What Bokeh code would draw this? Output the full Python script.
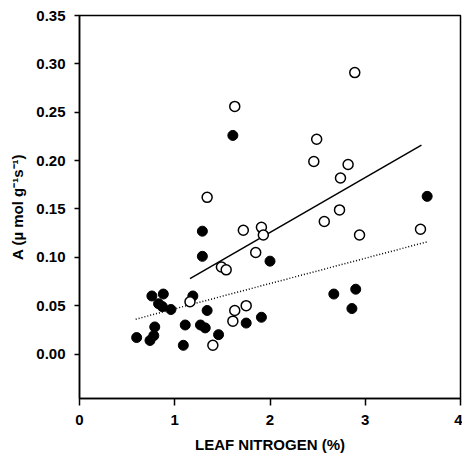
from bokeh.plotting import figure
from bokeh.models import FixedTicker, NumeralTickFormatter, Range1d
from bokeh.embed import file_html
from bokeh.resources import INLINE

# Filled circles
filled_x = [0.60, 0.74, 0.76, 0.78, 0.79, 0.83, 0.87, 0.88, 0.96, 1.09, 1.11, 1.19, 1.27,
            1.29, 1.29, 1.32, 1.34, 1.46, 1.61, 1.75, 1.91, 2.00, 2.67, 2.86, 2.90, 3.65]
filled_y = [0.017, 0.014, 0.060, 0.019, 0.028, 0.052, 0.049, 0.062, 0.046, 0.009, 0.030, 0.060, 0.030,
            0.127, 0.101, 0.027, 0.045, 0.020, 0.226, 0.032, 0.038, 0.096, 0.062, 0.047, 0.067, 0.163]

# Open circles
open_x = [1.16, 1.34, 1.40, 1.49, 1.54, 1.61, 1.63, 1.63, 1.72, 1.75, 1.85, 1.91, 1.93,
          2.46, 2.49, 2.57, 2.73, 2.74, 2.82, 2.89, 2.94, 3.58]
open_y = [0.054, 0.162, 0.009, 0.090, 0.087, 0.034, 0.045, 0.256, 0.128, 0.050, 0.105, 0.131, 0.123,
          0.199, 0.222, 0.137, 0.149, 0.182, 0.196, 0.291, 0.123, 0.129]

# Regression lines (endpoints)
solid_x = [1.16, 3.59]
solid_y = [0.078, 0.216]
dotted_x = [0.59, 3.65]
dotted_y = [0.036, 0.116]

x_ticks = [0, 1, 2, 3, 4]
y_ticks = [0.00, 0.05, 0.10, 0.15, 0.20, 0.25, 0.30, 0.35]

FONT = "Liberation Sans"

p = figure(frame_width=381, frame_height=383, output_backend="svg", toolbar_location=None,
           x_range=Range1d(0, 4), y_range=Range1d(-0.046, 0.35),
           min_border_left=79, min_border_right=2, min_border_top=15, min_border_bottom=56)
p.background_fill_color = "white"
p.border_fill_color = "white"
p.outline_line_color = "black"
p.outline_line_width = 1.5
p.outline_line_alpha = 1.0
p.xgrid.visible = False
p.ygrid.visible = False

p.line(solid_x, solid_y, line_color="black", line_width=1.5)
p.line(dotted_x, dotted_y, line_color="black", line_width=1.5, line_dash="1 2")

p.scatter(filled_x, filled_y, marker="circle", size=10, fill_color="black", line_color="black", line_width=1)
p.scatter(open_x, open_y, marker="circle", size=10, fill_color="white", line_color="black", line_width=1.5)

xa = p.xaxis[0]
xa.ticker = FixedTicker(ticks=x_ticks)
xa.formatter = NumeralTickFormatter(format="0")
xa.axis_label = "LEAF NITROGEN (%)"
xa.major_tick_out = 7
xa.major_tick_in = 0
xa.minor_tick_out = 0
xa.minor_tick_in = 0
xa.major_label_standoff = 9
xa.axis_label_standoff = 8

ya = p.yaxis[0]
ya.ticker = FixedTicker(ticks=y_ticks)
ya.formatter = NumeralTickFormatter(format="0.00")
ya.axis_label = "A (\u00b5 mol g\u207b\u00b9s\u207b\u00b9)"
ya.major_tick_out = 5
ya.major_tick_in = 0
ya.minor_tick_out = 0
ya.minor_tick_in = 0
ya.major_label_standoff = 9
ya.axis_label_standoff = 7

for ax in (xa, ya):
    ax.axis_line_color = "black"
    ax.axis_line_width = 1.5
    ax.major_tick_line_color = "black"
    ax.major_tick_line_width = 1.5
    ax.major_label_text_font = FONT
    ax.major_label_text_font_style = "bold"
    ax.major_label_text_font_size = "15px"
    ax.major_label_text_color = "black"
    ax.axis_label_text_font = FONT
    ax.axis_label_text_font_style = "bold"
    ax.axis_label_text_font_size = "15px"
    ax.axis_label_text_color = "black"

open("out.html", "w").write(file_html(p, INLINE))
